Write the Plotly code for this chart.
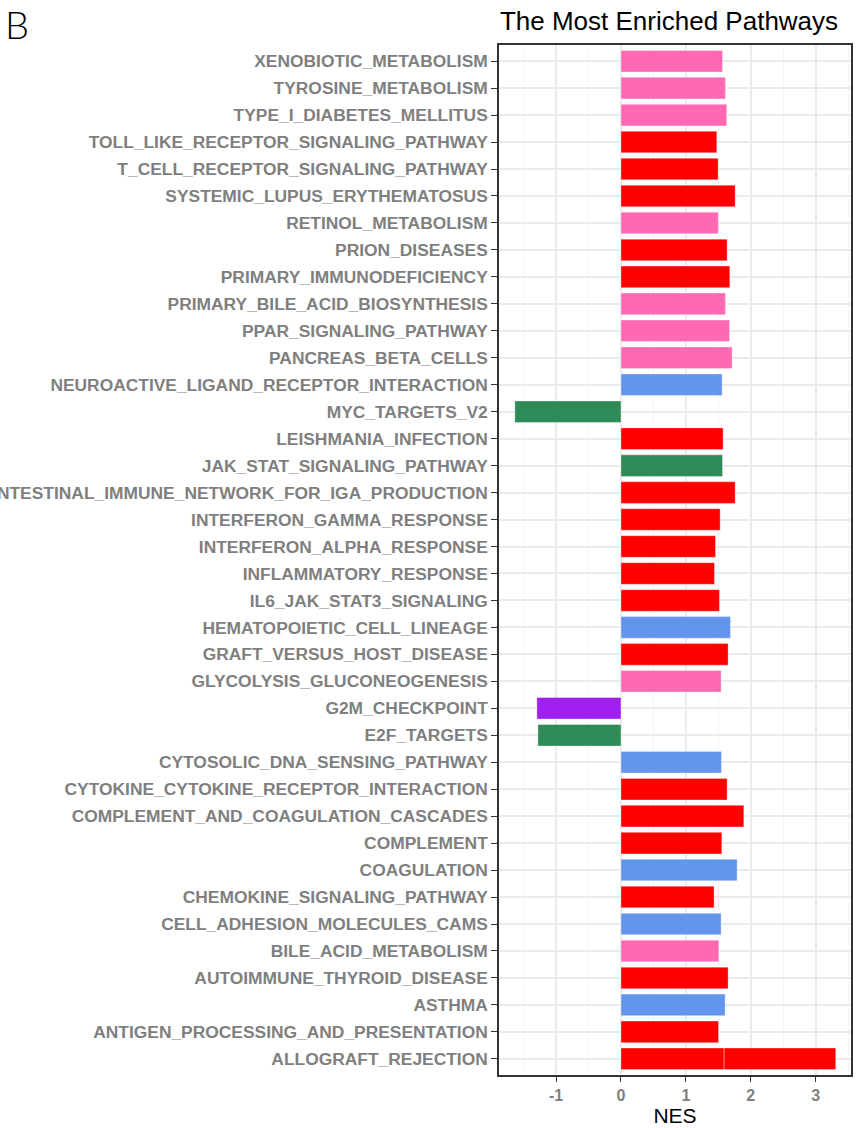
import plotly.graph_objects as go

# pathways listed top -> bottom as in the chart
pathways = [
    "XENOBIOTIC_METABOLISM", "TYROSINE_METABOLISM", "TYPE_I_DIABETES_MELLITUS",
    "TOLL_LIKE_RECEPTOR_SIGNALING_PATHWAY", "T_CELL_RECEPTOR_SIGNALING_PATHWAY",
    "SYSTEMIC_LUPUS_ERYTHEMATOSUS", "RETINOL_METABOLISM", "PRION_DISEASES",
    "PRIMARY_IMMUNODEFICIENCY", "PRIMARY_BILE_ACID_BIOSYNTHESIS", "PPAR_SIGNALING_PATHWAY",
    "PANCREAS_BETA_CELLS", "NEUROACTIVE_LIGAND_RECEPTOR_INTERACTION", "MYC_TARGETS_V2",
    "LEISHMANIA_INFECTION", "JAK_STAT_SIGNALING_PATHWAY",
    "INTESTINAL_IMMUNE_NETWORK_FOR_IGA_PRODUCTION", "INTERFERON_GAMMA_RESPONSE",
    "INTERFERON_ALPHA_RESPONSE", "INFLAMMATORY_RESPONSE", "IL6_JAK_STAT3_SIGNALING",
    "HEMATOPOIETIC_CELL_LINEAGE", "GRAFT_VERSUS_HOST_DISEASE", "GLYCOLYSIS_GLUCONEOGENESIS",
    "G2M_CHECKPOINT", "E2F_TARGETS", "CYTOSOLIC_DNA_SENSING_PATHWAY",
    "CYTOKINE_CYTOKINE_RECEPTOR_INTERACTION", "COMPLEMENT_AND_COAGULATION_CASCADES",
    "COMPLEMENT", "COAGULATION", "CHEMOKINE_SIGNALING_PATHWAY", "CELL_ADHESION_MOLECULES_CAMS",
    "BILE_ACID_METABOLISM", "AUTOIMMUNE_THYROID_DISEASE", "ASTHMA",
    "ANTIGEN_PROCESSING_AND_PRESENTATION", "ALLOGRAFT_REJECTION",
]

nes = [
    1.565, 1.61, 1.63, 1.477, 1.497, 1.76, 1.50, 1.636, 1.677, 1.61, 1.673, 1.713,
    1.559, -1.636, 1.574, 1.565, 1.76, 1.528, 1.457, 1.441, 1.518, 1.688, 1.651,
    1.543, -1.296, -1.28, 1.549, 1.636, 1.893, 1.554, 1.79, 1.435, 1.543, 1.508,
    1.651, 1.605, 1.503, 1.59,
]

colors = [
    "#FF69B4", "#FF69B4", "#FF69B4", "#FF0000", "#FF0000", "#FF0000", "#FF69B4", "#FF0000",
    "#FF0000", "#FF69B4", "#FF69B4", "#FF69B4", "#6495ED", "#2E8B57", "#FF0000", "#2E8B57",
    "#FF0000", "#FF0000", "#FF0000", "#FF0000", "#FF0000", "#6495ED", "#FF0000", "#FF69B4",
    "#A020F0", "#2E8B57", "#6495ED", "#FF0000", "#FF0000", "#FF0000", "#6495ED", "#FF0000",
    "#6495ED", "#FF69B4", "#FF0000", "#6495ED", "#FF0000", "#FF0000",
]

# ALLOGRAFT_REJECTION appears twice in the data and the bars stack
extra_pathways = ["ALLOGRAFT_REJECTION"]
extra_nes = [1.72]
extra_colors = ["#FF0000"]

x_tick_vals = [-1, 0, 1, 2, 3]
x_tick_text = ["-1", "0", "1", "2", "3"]

FONT = "Liberation Sans, Arial, sans-serif"
outline = dict(color="rgba(255,255,255,0.35)", width=1)

fig = go.Figure()
fig.add_trace(go.Bar(x=nes, y=pathways, orientation="h", width=0.8,
                     marker=dict(color=colors, line=outline), showlegend=False))
fig.add_trace(go.Bar(x=extra_nes, y=extra_pathways, orientation="h", width=0.8,
                     marker=dict(color=extra_colors, line=outline), showlegend=False))

fig.update_layout(
    width=858, height=1128,
    margin=dict(l=499, r=7, t=45, b=53, autoexpand=False),
    barmode="relative",
    plot_bgcolor="white", paper_bgcolor="white",
    font=dict(family=FONT),
    title=dict(text="The Most Enriched Pathways", x=669 / 858, xanchor="center",
               y=1 - 21 / 1128, yanchor="middle",
               font=dict(size=26, color="black", family=FONT)),
    annotations=[dict(text="B", xref="paper", yref="paper", x=-496 / 352,
                      y=1 + 21 / 1030, xanchor="left", yanchor="middle", showarrow=False,
                      font=dict(size=38, color="black", family="Lato, sans-serif", weight=300))],
)

fig.update_xaxes(
    range=[-1.88, 3.545], tickvals=x_tick_vals, ticktext=x_tick_text,
    title=dict(text="NES", font=dict(size=21, color="black"), standoff=2),
    tickfont=dict(size=16, color="#7F7F7F", weight="bold"),
    ticks="outside", ticklen=5, tickwidth=1.3, tickcolor="#333333",
    showgrid=True, gridcolor="#EBEBEB", gridwidth=1.6,
    minor=dict(dtick=0.5, tick0=0, showgrid=True, gridcolor="#F4F4F4", gridwidth=1),
    showline=True, linecolor="#333333", linewidth=1.5, mirror=True,
    zeroline=False, automargin=False,
)
fig.update_yaxes(
    categoryorder="array", categoryarray=pathways,
    range=[37.6, -0.6],
    tickfont=dict(size=17.4, color="#7F7F7F", weight="bold"),
    ticks="outside", ticklen=6, tickwidth=1.3, tickcolor="#333333",
    showgrid=True, gridcolor="#EBEBEB", gridwidth=1.6,
    showline=True, linecolor="#333333", linewidth=1.5, mirror=True,
    automargin=False,
)

# drop the page's default body margin so the figure sits at the window's corner
fig.write_html("out.html", config={"displayModeBar": False},
               post_script="document.body.style.margin='0';")
